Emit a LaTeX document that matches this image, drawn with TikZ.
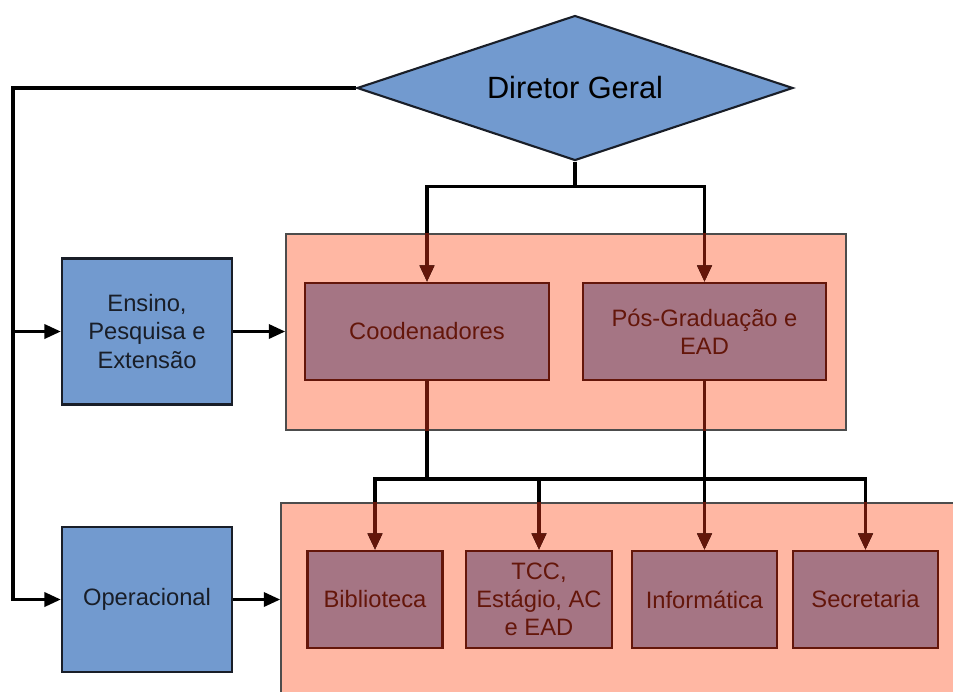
\documentclass[tikz,border=0pt]{standalone}
\usepackage{fontspec}
\setmainfont{Liberation Sans}
\usetikzlibrary{positioning,arrows.meta,shapes.geometric}
\definecolor{OrgBlue}{RGB}{114,154,207}
\definecolor{OrgSalmon}{RGB}{255,183,163}
\definecolor{OrgMauve}{RGB}{165,117,132}
\definecolor{OrgRed}{RGB}{100,22,10}
\definecolor{OrgInk}{RGB}{25,30,40}
\pgfdeclarelayer{areas}
\pgfdeclarelayer{wires}
\pgfsetlayers{areas,wires,main}
\tikzset{
  org box/.style={
    draw=OrgInk,
    line width=1.3pt,
    fill=OrgBlue,
    align=center,
    font=\fontsize{13.5}{16}\selectfont,
    text=OrgInk,
    inner sep=2pt,
    minimum width=3.4cm,
    minimum height=2.92cm
  },
  org head/.style={diamond, draw=OrgInk, line width=1.2pt, fill=OrgBlue, aspect=3, inner sep=0pt,
    minimum width=8.72cm, minimum height=2.9cm, font=\fontsize{17.5}{20}\selectfont, text=black},
  org area/.style={draw=black!70, line width=0.9pt, fill=OrgSalmon, inner sep=0pt},
  org unit/.style={draw=OrgRed, line width=1.3pt, fill=OrgMauve, text=OrgRed, align=center,
    font=\fontsize{13.5}{16}\selectfont, inner sep=2pt, minimum height=1.94cm},
  org wire/.style={line width=2pt},
  org arrow/.style={org wire, -{Triangle[length=3.3mm,width=2.8mm]}}
}
% links that run through the salmon areas
\newcommand{\orgwires}[1]{%
  \draw[org arrow,#1] (dir.south) -- ++(0,25) -| (coo.north);
  \draw[org arrow,#1] (dir.south) -- ++(0,25) -| (pos.north);
  \draw[org arrow,#1] (coo.south) -- ++(0,98) -| (bib.north);
  \draw[org arrow,#1] (coo.south) -- ++(0,98) -| (tcc.north);
  \draw[org arrow,#1] (coo.south) -- ++(0,98) -| (sec.north);
  \draw[org arrow,#1] (pos.south) -- (inf.north);
}
\begin{document}
\begin{tikzpicture}[x=0.02cm,y=-0.02cm]
\useasboundingbox (0,0) rectangle (953,691);
\begin{pgfonlayer}{areas}
\node[org area, minimum width=11.2cm, minimum height=3.92cm] (upper) at (566,332) {};
\node[org area, minimum width=13.48cm, minimum height=3.8cm] (lower) at (618,598) {};
\end{pgfonlayer}
\node[org head] (dir) at (575,88) {Diretor Geral};
\node[org box] (ens) at (147,331.5) {Ensino,\\Pesquisa e\\Extensão};
\node[org box, minimum height=2.9cm] (ope) at (147,599.5) {Operacional};
\node[org unit, minimum width=4.88cm] (coo) at (427,331.5) {Coodenadores};
\node[org unit, minimum width=4.86cm] (pos) at (704.5,331.5) {Pós-Graduação e\\EAD};
\node[org unit, minimum width=2.7cm] (bib) at (375,599.5) {Biblioteca};
\node[org unit, minimum width=2.92cm] (tcc) at (539,599.5) {TCC,\\Estágio, AC\\e EAD};
\node[org unit, minimum width=2.9cm] (inf) at (704.5,599.5) {Informática};
\node[org unit, minimum width=2.9cm] (sec) at (865.5,599.5) {Secretaria};
\coordinate (trunk) at (13,88);
\begin{pgfonlayer}{wires}
\draw[org arrow] (dir.west) -- (trunk) |- (ope.west);
\draw[org arrow] (trunk |- ens.west) -- (ens.west);
\draw[org arrow] (ens.east) -- (ens.east -| upper.west);
\draw[org arrow] (ope.east) -- (ope.east -| lower.west);
\orgwires{black}
\begin{scope}
\clip (upper.north west) rectangle (upper.south east) (lower.north west) rectangle (lower.south east);
\orgwires{OrgRed}
\end{scope}
\end{pgfonlayer}
\end{tikzpicture}
\end{document}
